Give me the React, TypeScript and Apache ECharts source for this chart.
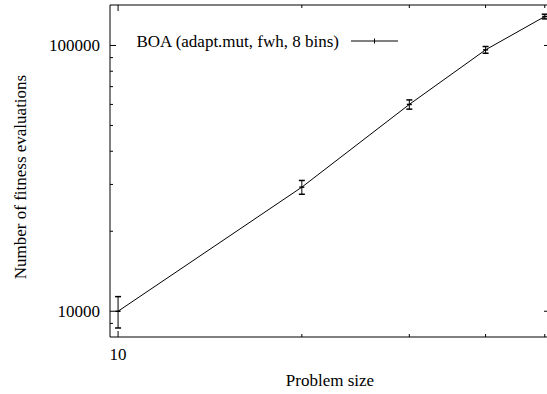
import React, { useEffect, useRef } from 'react';
import * as echarts from 'echarts';

// Scaling of BOA: fitness evaluations vs. problem size (log-log)
const problemSizes = [10, 20, 30, 40, 50];
const evaluations = [10000, 29300, 60000, 96300, 128500];
const evalErrors = [1350, 1750, 2400, 2800, 2600];

const xMajorTicks = [10];
const xMinorTicks = [20, 30, 40, 50];
const yMajorTicks = [10000, 100000];
const yMinorTicks = [9000, 20000, 30000, 40000, 50000, 60000, 70000, 80000, 90000];

const seriesName = 'BOA (adapt.mut, fwh, 8 bins)';
const xTitle = 'Problem size';
const yTitle = 'Number of fitness evaluations';

const X_MIN = 9.7;
const X_MAX = 51;
const Y_MIN = 8000;
const Y_MAX = 142000;

const FONT = 'Liberation Serif';
const MAJOR_LEN = 6;
const MINOR_LEN = 3;

const isTick = (v: number, list: number[]) => list.find((t) => Math.abs(v - t) / t < 1e-6);

export default function App() {
  const ref = useRef<HTMLDivElement>(null);

  useEffect(() => {
    if (!ref.current) return;
    const chart = echarts.init(ref.current, undefined, { renderer: 'svg' });

    const lineData = problemSizes.map((x, i) => [x, evaluations[i]]);
    const errData = problemSizes.map((x, i) => [x, evaluations[i], evaluations[i] - evalErrors[i], evaluations[i] + evalErrors[i]]);
    const xTickData = [
      ...xMajorTicks.map((v) => [v, Y_MIN, MAJOR_LEN]),
      ...xMinorTicks.map((v) => [v, Y_MIN, MINOR_LEN]),
    ];
    const yTickData = [
      ...yMajorTicks.map((v) => [X_MIN, v, MAJOR_LEN]),
      ...yMinorTicks.map((v) => [X_MIN, v, MINOR_LEN]),
    ];
    const stroke = { stroke: '#000', lineWidth: 1 };

    chart.setOption({
      animation: false,
      backgroundColor: '#fff',
      textStyle: { fontFamily: FONT },
      grid: {
        left: 110,
        right: 10,
        top: 5,
        bottom: 57,
        show: true,
        borderColor: '#000',
        borderWidth: 1,
        backgroundColor: 'transparent',
      },
      xAxis: {
        type: 'log',
        logBase: 10,
        min: X_MIN,
        max: X_MAX,
        name: xTitle,
        nameLocation: 'middle',
        nameGap: 35,
        nameTextStyle: { fontFamily: FONT, fontSize: 17, color: '#000' },
        axisLine: { show: false },
        axisTick: { show: false },
        splitLine: { show: false },
        axisLabel: {
          margin: 9,
          fontFamily: FONT,
          fontSize: 17,
          color: '#000',
          showMinLabel: false,
          showMaxLabel: false,
          formatter: (v: number) => {
            const t = isTick(v, xMajorTicks);
            return t ? String(t) : '';
          },
        },
      },
      yAxis: {
        type: 'log',
        logBase: 10,
        min: Y_MIN,
        max: Y_MAX,
        axisLine: { show: false },
        axisTick: { show: false },
        splitLine: { show: false },
        axisLabel: {
          margin: 10,
          fontFamily: FONT,
          fontSize: 17,
          color: '#000',
          showMinLabel: false,
          showMaxLabel: false,
          formatter: (v: number) => {
            const t = isTick(v, yMajorTicks);
            return t ? String(t) : '';
          },
        },
      },
      graphic: [
        {
          type: 'text',
          x: 20,
          y: 177,
          rotation: Math.PI / 2,
          style: {
            text: yTitle,
            fontFamily: FONT,
            fontSize: 17,
            fill: '#000',
            align: 'center',
            verticalAlign: 'middle',
          },
        },
        {
          type: 'text',
          x: 339,
          y: 41,
          style: {
            text: seriesName,
            fontFamily: FONT,
            fontSize: 17,
            fill: '#000',
            align: 'right',
            verticalAlign: 'middle',
          },
        },
        { type: 'line', shape: { x1: 351, y1: 41, x2: 398, y2: 41 }, style: stroke },
        { type: 'line', shape: { x1: 374.5, y1: 38.5, x2: 374.5, y2: 43.5 }, style: stroke },
      ],
      series: [
        {
          name: 'xTicks',
          type: 'custom',
          silent: true,
          data: xTickData,
          renderItem: (params: any, api: any) => {
            const cs = params.coordSys;
            const px = api.coord([api.value(0), api.value(1)])[0];
            const len = api.value(2);
            const bottom = cs.y + cs.height;
            return {
              type: 'group',
              children: [
                { type: 'line', shape: { x1: px, y1: bottom, x2: px, y2: bottom - len }, style: stroke },
                { type: 'line', shape: { x1: px, y1: cs.y, x2: px, y2: cs.y + len }, style: stroke },
              ],
            };
          },
        },
        {
          name: 'yTicks',
          type: 'custom',
          silent: true,
          data: yTickData,
          renderItem: (params: any, api: any) => {
            const cs = params.coordSys;
            const py = api.coord([api.value(0), api.value(1)])[1];
            const len = api.value(2);
            const right = cs.x + cs.width;
            return {
              type: 'group',
              children: [
                { type: 'line', shape: { x1: cs.x, y1: py, x2: cs.x + len, y2: py }, style: stroke },
                { type: 'line', shape: { x1: right, y1: py, x2: right - len, y2: py }, style: stroke },
              ],
            };
          },
        },
        {
          name: seriesName,
          type: 'line',
          data: lineData,
          symbol: 'none',
          lineStyle: { color: '#000', width: 1 },
          silent: true,
        },
        {
          name: 'errors',
          type: 'custom',
          silent: true,
          data: errData,
          encode: { x: 0, y: [1, 2, 3] },
          renderItem: (params: any, api: any) => {
            const x = api.value(0);
            const p = api.coord([x, api.value(1)]);
            const lo = api.coord([x, api.value(2)]);
            const hi = api.coord([x, api.value(3)]);
            const cap = 3;
            const mk = 2.5;
            const capStyle = { stroke: '#000', lineWidth: 1.5 };
            return {
              type: 'group',
              children: [
                { type: 'line', shape: { x1: hi[0], y1: hi[1], x2: lo[0], y2: lo[1] }, style: stroke },
                { type: 'line', shape: { x1: hi[0] - cap, y1: hi[1], x2: hi[0] + cap, y2: hi[1] }, style: capStyle },
                { type: 'line', shape: { x1: lo[0] - cap, y1: lo[1], x2: lo[0] + cap, y2: lo[1] }, style: capStyle },
                { type: 'line', shape: { x1: p[0] - mk, y1: p[1], x2: p[0] + mk, y2: p[1] }, style: capStyle },
              ],
            };
          },
        },
      ],
    });

    return () => chart.dispose();
  }, []);

  return (
    <div style={{ position: 'fixed', left: 0, top: 0, width: 547, height: 394, overflow: 'hidden', background: '#fff' }}>
      <div ref={ref} style={{ width: 560, height: 394 }} />
    </div>
  );
}
